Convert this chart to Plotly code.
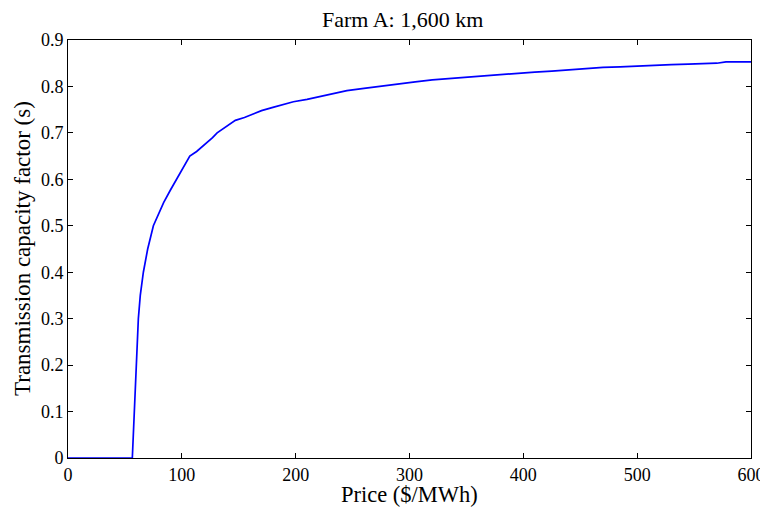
import plotly.graph_objects as go

price = [0, 56.5, 61.8, 63.5, 66.2, 70, 75, 80, 84, 90, 95.5, 101, 107, 113, 118, 122, 127, 131,
         137, 142, 147, 155, 162, 170, 180, 188, 198, 210, 220, 232, 245, 260, 275, 290, 305,
         320, 335, 350, 365, 380, 395, 410, 425, 440, 455, 470, 485, 500, 515, 530, 545, 560,
         570, 578, 600]
capacity = [0, 0, 0.30, 0.35, 0.40, 0.45, 0.50, 0.527, 0.55, 0.577, 0.60, 0.625, 0.65, 0.66, 0.67,
            0.68, 0.69, 0.70, 0.71, 0.72, 0.727, 0.733, 0.74, 0.748, 0.755, 0.76, 0.767, 0.772,
            0.777, 0.784, 0.791, 0.796, 0.801, 0.805, 0.810, 0.814, 0.817, 0.820, 0.822, 0.826,
            0.829, 0.831, 0.833, 0.836, 0.839, 0.841, 0.842, 0.844, 0.846, 0.847, 0.848, 0.849,
            0.850, 0.853, 0.853]

x_ticks = [0, 100, 200, 300, 400, 500, 600]
y_ticks = [0, 0.1, 0.2, 0.3, 0.4, 0.5, 0.6, 0.7, 0.8, 0.9]
y_labels = ["0", "0.1", "0.2", "0.3", "0.4", "0.5", "0.6", "0.7", "0.8", "0.9"]

title_text = "Farm A: 1,600 km"
x_title = "Price ($/MWh)"
y_title = "Transmission capacity factor (s)"

fig = go.Figure()
fig.add_trace(go.Scatter(x=price, y=capacity, mode="lines",
                         line=dict(color="#0000FF", width=1.7), showlegend=False))

font = "Liberation Serif, Times New Roman, serif"
axis_common = dict(showline=True, linecolor="black", linewidth=1, mirror="ticks",
                   ticks="inside", ticklen=5, tickcolor="black", showgrid=False,
                   zeroline=False, automargin=False,
                   tickfont=dict(family=font, size=18, color="black"))

fig.update_layout(
    width=760, height=500,
    margin=dict(l=60, r=17, t=32, b=50, autoexpand=False),
    paper_bgcolor="white", plot_bgcolor="white",
    xaxis=dict(range=[0, 600], tickvals=x_ticks, ticktext=[str(t) for t in x_ticks],
               **axis_common),
    yaxis=dict(range=[0, 0.9], tickvals=y_ticks, ticktext=y_labels, **axis_common),
    annotations=[
        dict(text=title_text, xref="paper", yref="paper", x=0.49, y=1 + 20 / 418,
             xanchor="center", yanchor="middle", showarrow=False,
             font=dict(family=font, size=22, color="black")),
        dict(text=x_title, xref="paper", yref="paper", x=0.5, y=-36 / 418,
             xanchor="center", yanchor="middle", showarrow=False,
             font=dict(family=font, size=22.5, color="black")),
        dict(text=y_title, xref="paper", yref="paper", x=-46 / 683, y=0.5,
             xanchor="center", yanchor="middle", showarrow=False, textangle=-90,
             font=dict(family=font, size=23, color="black")),
    ],
)

fig.write_html("out.html")
